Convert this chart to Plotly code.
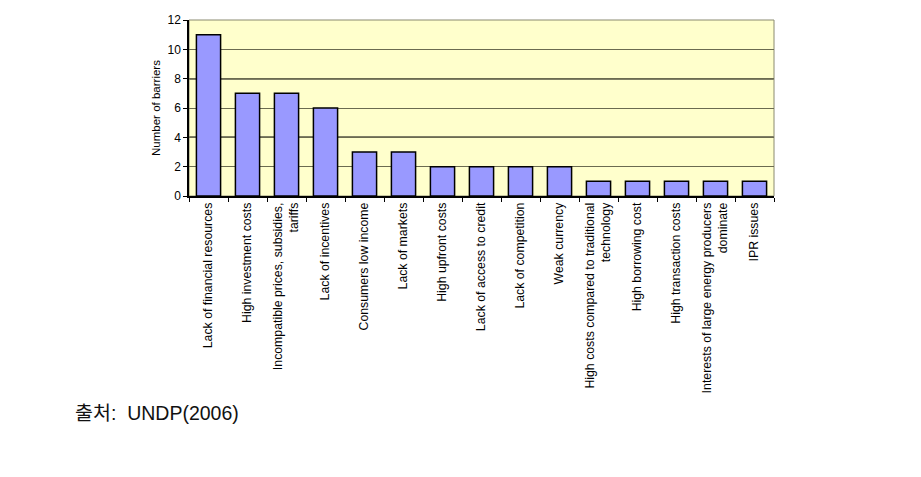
import plotly.graph_objects as go

categories = [
    "Lack of financial resources",
    "High investment costs",
    "Incompatible prices, subsidies,<br>tariffs",
    "Lack of incentives",
    "Consumers low income",
    "Lack of markets",
    "High upfront costs",
    "Lack of access to credit",
    "Lack of competition",
    "Weak currency",
    "High costs compared to traditional<br>technology",
    "High borrowing cost",
    "High transaction costs",
    "Interests of large energy producers<br>dominate",
    "IPR issues",
]
values = [11, 7, 7, 6, 3, 3, 2, 2, 2, 2, 1, 1, 1, 1, 1]
y_ticks = [0, 2, 4, 6, 8, 10, 12]

narrow = "Liberation Sans Narrow, Arial Narrow, Liberation Sans, Arial, sans-serif"

fig = go.Figure(go.Bar(
    x=categories, y=values,
    marker=dict(color="#9999FF", line=dict(color="#000000", width=1.5)),
    width=0.62,
))

fig.update_layout(
    width=921, height=477,
    margin=dict(l=189, r=147, t=20, b=281),
    paper_bgcolor="white",
    plot_bgcolor="#FFFFCC",
    showlegend=False,
    font=dict(family=narrow, color="#000000"),
    xaxis=dict(
        tickangle=-90, tickfont=dict(size=12.3, family=narrow),
        showline=True, linecolor="#000000", linewidth=1.5,
        ticks="outside", ticklen=4, tickcolor="#000000",
        tickson="boundaries", showgrid=False, mirror=False,
    ),
    yaxis=dict(
        range=[0, 12], tickvals=y_ticks,
        tickfont=dict(size=12, family=narrow),
        showline=True, linecolor="#000000", linewidth=1.5,
        ticks="outside", ticklen=4, tickcolor="#000000",
        gridcolor="#6b6b50", gridwidth=1.2,
        title=dict(text="Number of barriers", font=dict(size=11.5, family=narrow), standoff=4),
        zeroline=False,
    ),
    annotations=[dict(
        text="출처:  UNDP(2006)", xref="paper", yref="paper",
        x=(73 - 189) / 585, y=-(413 - 196) / 176, xanchor="left", yanchor="middle",
        showarrow=False,
        font=dict(size=19.5, family="Liberation Sans, Arial, Noto Sans CJK KR, sans-serif", color="#111111"),
    )],
    shapes=[
        dict(type="line", xref="paper", yref="y", x0=0, x1=1, y0=v, y1=v,
             line=dict(color="#000000", width=1.5), layer="below")
        for v in [4, 8]
    ] + [
        dict(type="rect", xref="paper", yref="paper", x0=0, x1=1, y0=0, y1=1,
             line=dict(color="#8a8a70", width=1), layer="below"),
    ],
)

fig.write_html("out.html")
